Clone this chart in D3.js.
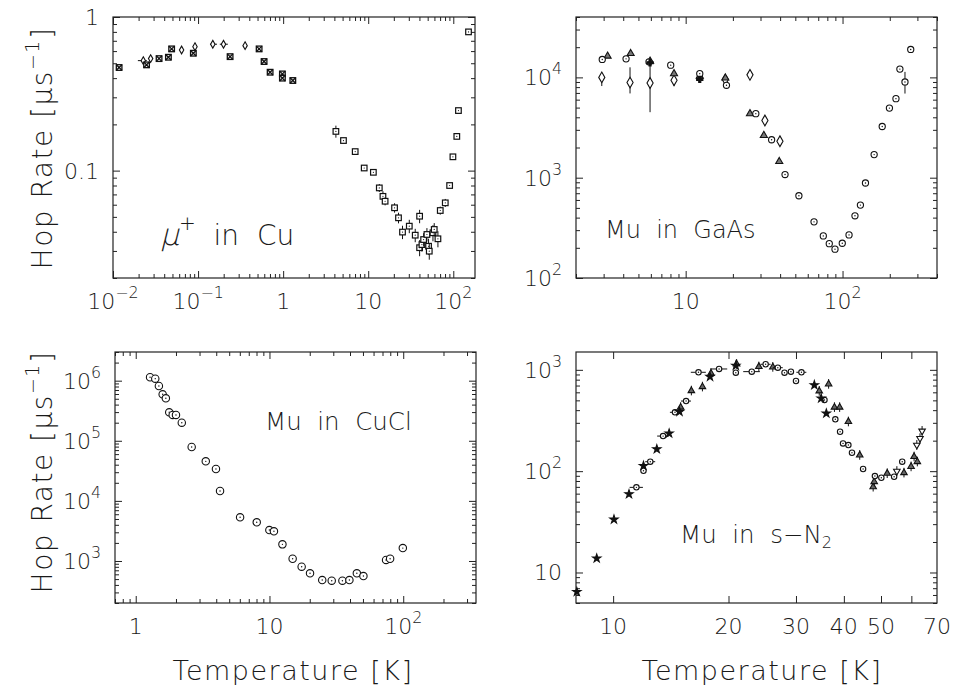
<!DOCTYPE html>
<html>
<head>
<meta charset="utf-8">
<script src="https://cdn.jsdelivr.net/npm/d3@7"></script>
<style>
body { margin: 0; background: #fff; }
text { font-family: "DejaVu Sans", "Liberation Sans", sans-serif; font-weight: 200; fill: #1a1a1a; }
</style>
</head>
<body>
<div id="chart"></div>
<script>
// ---- mu+ in Cu ----
var cuT_x = [0.0118, 0.0248, 0.0348, 0.0448, 0.0489, 0.088, 0.238, 0.522, 0.597, 0.703, 0.98, 0.98, 1.30];
var cuR_x = [0.469, 0.488, 0.536, 0.547, 0.62, 0.581, 0.552, 0.62, 0.513, 0.437, 0.426, 0.40, 0.386];
var cuT_d = [0.0227, 0.0277, 0.064, 0.092, 0.149, 0.199, 0.357];
var cuR_d = [0.52, 0.536, 0.61, 0.641, 0.665, 0.665, 0.651];
var cuTlo_d = [0.0196, null, null, null, 0.138, 0.180, null];
var cuThi_d = [0.0250, null, null, null, 0.167, 0.224, null];
var cuT_s = [4.17, 5.12, 7.03, 8.97, 11.5, 13.5, 14.9, 15.8, 20.4, 22.7, 25.3, 30.4, 35.7, 40.2, 40.2, 42.8, 44.8, 49, 51.2, 52.2, 57.7, 59.7, 66, 70.3, 80.5, 90.6, 99, 110, 115, 151];
var cuR_s = [0.18, 0.157, 0.133, 0.104, 0.0975, 0.0772, 0.068, 0.0632, 0.0573, 0.0493, 0.0398, 0.0435, 0.038, 0.0505, 0.0315, 0.033, 0.0356, 0.0384, 0.0322, 0.0299, 0.0394, 0.0414, 0.036, 0.055, 0.0617, 0.08, 0.123, 0.167, 0.246, 0.80];
var cuErr_s = [0.09, 0.04, 0.04, 0.04, 0.04, 0.06, 0.08, 0.06, 0.07, 0.08, 0.1, 0.1, 0.1, 0.1, 0.12, 0.1, 0.1, 0.1, 0.12, 0.12, 0.12, 0.1, 0.12, 0.06, 0.06, 0.04, 0.04, 0.04, 0.04, 0.04];

// ---- Mu in GaAs ----
var gaT_c = [2.94, 4.17, 5.84, 8.03, 12.3, 18.2, 28.0, 35.3, 43, 52.7, 65.8, 75.4, 82.3, 89.5, 99.6, 110, 120, 130, 140, 159, 179, 199, 219, 232, 250, 272];
var gaR_c = [15100, 15300, 14300, 13250, 10900, 8340, 4350, 2390, 1075, 661, 363, 263, 220, 194, 222, 269, 417, 533, 885, 1700, 3240, 4940, 6140, 12100, 9010, 19000];
var gaRlo_c = [null, null, null, null, null, null, null, null, null, null, null, null, null, null, null, null, null, null, null, null, null, null, null, null, 6900, null];
var gaRhi_c = [null, null, null, null, null, null, null, null, null, null, null, null, null, null, null, null, null, null, null, null, null, null, null, null, 11350, null];
var gaT_d = [2.92, 4.42, 5.93, 8.43, 17.9, 25.7, 32.0, 39.9];
var gaR_d = [10000, 8880, 8800, 9350, 9500, 10600, 3720, 2310];
var gaRlo_d = [8200, 6920, 4500, 8200, null, null, null, null];
var gaRhi_d = [10900, 12600, 15000, 10300, null, null, null, null];
var gaT_t = [3.18, 4.46, 5.93, 8.43, 12.3, 17.9, 25.7, 31.5, 39.5];
var gaR_t = [16300, 17300, 14500, 10900, 10300, 9860, 4350, 2640, 1450];
var gaT_p = [5.93, 12.3];
var gaR_p = [14000, 9570];

// ---- Mu in CuCl ----
var cuclT = [1.28, 1.40, 1.49, 1.59, 1.68, 1.78, 1.89, 2.0, 2.21, 2.62, 3.34, 3.98, 4.27, 6.03, 8.03, 9.98, 10.8, 12.5, 14.9, 17.4, 20.1, 24.8, 29.2, 35.1, 39.6, 45, 50.4, 74.4, 79.8, 99.3];
var cuclR = [1.14e6, 1.08e6, 8.15e5, 5.93e5, 5.09e5, 2.98e5, 2.69e5, 2.69e5, 2.0e5, 7.88e4, 4.55e4, 3.39e4, 1.46e4, 5330, 4400, 3270, 3120, 1890, 1090, 803, 624, 482, 470, 470, 482, 624, 562, 1040, 1090, 1640];

// ---- Mu in s-N2 ----
var n2T_s = [8.04, 9.06, 10.05, 11.0, 12.0, 13.0, 14.0, 14.9, 17.9, 20.9, 33.5, 34.9, 36.0];
var n2R_s = [6.45, 13.8, 33.4, 59.4, 113, 165, 236, 386, 855, 1100, 708, 524, 372];
var n2T_c = [11.5, 12.0, 12.5, 13.5, 14.5, 15.5, 16.7, 18.9, 20.9, 23.0, 25.0, 26.9, 28.0, 29.1, 30.0, 31.0, 35.6, 38.0, 39.1, 39.8, 41.1, 42.0, 44.9, 48.2, 50.1, 54.1, 56.8];
var n2R_c = [69.2, 101, 124, 222, 381, 492, 946, 1020, 937, 960, 1135, 1050, 937, 960, 776, 946, 504, 325, 245, 188, 181, 152, 105, 89.5, 86.1, 88.1, 124];
var n2Terr_c = [0.04, 0, 0.03, 0.035, 0.03, 0.03, 0.045, 0.05, 0, 0.05, 0.03, 0.03, 0, 0, 0, 0.03, 0, 0, 0, 0, 0, 0, 0, 0, 0, 0, 0];
var n2T_t = [15.0, 16.0, 17.1, 18.0, 21.0, 24.0, 26.1, 34.5, 36.5, 37.8, 39.0, 41.1, 44.0, 47.7, 48.0, 51.9, 57.4, 59.9, 61.0, 62.2];
var n2R_t = [427, 622, 681, 925, 1140, 1075, 1065, 618, 724, 427, 427, 308, 144, 70, 78.7, 95.1, 96.4, 111, 139, 124];
var n2T_v = [55.0, 62.0, 63.2, 64.0];
var n2R_v = [100, 181, 211, 249];

var W = 955, H = 689;
var svg = d3.select("#chart").append("svg")
	.attr("width", W)
	.attr("height", H)
	.style("background", "#fff");

function supText(g, x, y, base, sup, anchor, size) {
	var t = g.append("text")
		.attr("x", x)
		.attr("y", y)
		.attr("text-anchor", anchor)
		.style("font-size", size + "px");
	t.append("tspan").text(base);
	if (sup) {
		t.append("tspan").attr("dy", -size * 0.5).style("font-size", (size * 0.72) + "px").text(sup);
	}
	return t;
}

function isMajor(v) {
	var l = Math.log10(v);
	return Math.abs(l - Math.round(l)) < 1e-6;
}

function drawPanel(p) {
	var x = d3.scaleLog().domain(p.xDomain).range([p.left, p.right]);
	var y = d3.scaleLog().domain(p.yDomain).range([p.bottom, p.top]);
	var g = svg.append("g");

	var xt = p.xTicks || x.ticks();
	var yt = y.ticks();
	var xm = p.xMajor || isMajor;
	var xMaj = xt.filter(xm), xMin = xt.filter(function(v) { return !xm(v); });
	var yMaj = yt.filter(isMajor), yMin = yt.filter(function(v) { return !isMajor(v); });

	function ax(fn, scale, vals, len, tr) {
		g.append("g")
			.attr("transform", tr)
			.call(fn(scale).tickValues(vals).tickSize(-len).tickFormat(""))
			.call(function(s) { s.select(".domain").remove(); s.selectAll("line").attr("stroke", "#222"); });
	}
	ax(d3.axisBottom, x, xMaj, 7, "translate(0," + p.bottom + ")");
	ax(d3.axisBottom, x, xMin, 4, "translate(0," + p.bottom + ")");
	ax(d3.axisTop, x, xMaj, 7, "translate(0," + p.top + ")");
	ax(d3.axisTop, x, xMin, 4, "translate(0," + p.top + ")");
	ax(d3.axisLeft, y, yMaj, 7, "translate(" + p.left + ",0)");
	ax(d3.axisLeft, y, yMin, 4, "translate(" + p.left + ",0)");
	ax(d3.axisRight, y, yMaj, 7, "translate(" + p.right + ",0)");
	ax(d3.axisRight, y, yMin, 4, "translate(" + p.right + ",0)");

	g.append("rect")
		.attr("x", p.left).attr("y", p.top)
		.attr("width", p.right - p.left).attr("height", p.bottom - p.top)
		.attr("fill", "none").attr("stroke", "#222").attr("stroke-width", 1.2);

	p.xLabels.forEach(function(l) {
		supText(g, x(l[0]), p.bottom + 31, l[1], l[2], "middle", 22);
	});
	p.yLabels.forEach(function(l) {
		supText(g, p.left - 14, y(l[0]) + 8, l[1], l[2], "end", 22);
	});

	return {g: g, x: x, y: y};
}

function marker(g, shape, cx, cy, s, fill) {
	var st = "#111";
	if (shape == "circle") {
		g.append("circle").attr("cx", cx).attr("cy", cy).attr("r", s).attr("fill", "#fff").attr("stroke", st).attr("stroke-width", 1.1);
		g.append("circle").attr("cx", cx).attr("cy", cy).attr("r", 0.7).attr("fill", st);
	} else if (shape == "xsquare") {
		g.append("rect").attr("x", cx - s).attr("y", cy - s).attr("width", 2 * s).attr("height", 2 * s).attr("fill", "#fff").attr("stroke", st).attr("stroke-width", 1.3);
		g.append("path").attr("d", "M" + (cx - s) + "," + (cy - s) + "L" + (cx + s) + "," + (cy + s) + "M" + (cx + s) + "," + (cy - s) + "L" + (cx - s) + "," + (cy + s)).attr("stroke", st).attr("stroke-width", 1.3);
	} else if (shape == "square") {
		g.append("rect").attr("x", cx - s).attr("y", cy - s).attr("width", 2 * s).attr("height", 2 * s).attr("fill", "#fff").attr("stroke", st).attr("stroke-width", 1.2);
	} else {
		var type = {diamond: d3.symbolDiamond, triangle: d3.symbolTriangle, star: d3.symbolStar, cross: d3.symbolCross, wye: d3.symbolTriangle}[shape];
		g.append("path")
			.attr("d", d3.symbol().type(type).size(s * s * 3.2)())
			.attr("transform", "translate(" + cx + "," + cy + ")" + (shape == "wye" ? " rotate(180)" : ""))
			.attr("fill", fill || "#fff").attr("stroke", st).attr("stroke-width", 1.1);
	}
}

function errV(g, P, t, lo, hi) {
	g.append("line").attr("x1", P.x(t)).attr("x2", P.x(t)).attr("y1", P.y(lo)).attr("y2", P.y(hi)).attr("stroke", "#111").attr("stroke-width", 1);
}
function errH(g, P, r, lo, hi) {
	g.append("line").attr("x1", P.x(lo)).attr("x2", P.x(hi)).attr("y1", P.y(r)).attr("y2", P.y(r)).attr("stroke", "#111").attr("stroke-width", 1);
}

// ---------- panel 1: mu+ in Cu ----------
var P1 = drawPanel({
	left: 113, right: 475, top: 17, bottom: 278,
	xDomain: [0.01, 180], yDomain: [0.02, 1],
	xLabels: [[0.01, "10", "\u22122"], [0.1, "10", "\u22121"], [1, "1"], [10, "10"], [100, "10", "2"]],
	yLabels: [[1, "1"], [0.1, "0.1"]]
});
var m1 = P1.g.append("g");
cuT_s.forEach(function(t, i) {
	var r = cuR_s[i], e = cuErr_s[i];
	errV(m1, P1, t, r * (1 - e), r * (1 + e));
	marker(m1, "square", P1.x(t), P1.y(r), 2.8);
	m1.append("circle").attr("cx", P1.x(t)).attr("cy", P1.y(r)).attr("r", 0.6).attr("fill", "#111");
});
cuT_d.forEach(function(t, i) {
	if (cuTlo_d[i]) errH(m1, P1, cuR_d[i], cuTlo_d[i], cuThi_d[i]);
	marker(m1, "diamond", P1.x(t), P1.y(cuR_d[i]), 2.3);
});
cuT_x.forEach(function(t, i) {
	marker(m1, "xsquare", P1.x(t), P1.y(cuR_x[i]), 2.8);
});
// slanted thin mu, then "+ in Cu"
P1.g.append("text").attr("transform", "translate(160,245) skewX(-14)").style("font-size", "30px").text("\u03bc");
P1.g.append("text").attr("x", 179).attr("y", 245).style("font-size", "28px").attr("xml:space", "preserve")
	.call(function(t) {
		t.append("tspan").attr("dy", -15).style("font-size", "20px").text("+");
		t.append("tspan").attr("dy", 15).text("  in  Cu");
	});

// ---------- panel 2: Mu in GaAs ----------
var P2 = drawPanel({
	left: 576, right: 937, top: 17, bottom: 278,
	xDomain: [2, 400], yDomain: [100, 40000],
	xLabels: [[10, "10"], [100, "10", "2"]],
	yLabels: [[10000, "10", "4"], [1000, "10", "3"], [100, "10", "2"]]
});
var m2 = P2.g.append("g");
gaT_d.forEach(function(t, i) {
	if (gaRlo_d[i]) errV(m2, P2, t, gaRlo_d[i], gaRhi_d[i]);
	marker(m2, "diamond", P2.x(t), P2.y(gaR_d[i]), 3.2);
});
gaT_t.forEach(function(t, i) {
	marker(m2, "triangle", P2.x(t), P2.y(gaR_t[i]), 2.6, "#777");
});
gaT_c.forEach(function(t, i) {
	if (gaRlo_c[i]) errV(m2, P2, t, gaRlo_c[i], gaRhi_c[i]);
	marker(m2, "circle", P2.x(t), P2.y(gaR_c[i]), 3.1);
});
gaT_p.forEach(function(t, i) {
	marker(m2, "cross", P2.x(t), P2.y(gaR_p[i]), 2.6, "#111");
});
P2.g.append("text").attr("x", 605).attr("y", 238).style("font-size", "24px").attr("xml:space", "preserve").text("Mu  in  GaAs");

// ---------- panel 3: Mu in CuCl ----------
var P3 = drawPanel({
	left: 115, right: 476, top: 352, bottom: 603,
	xDomain: [0.7, 350], yDomain: [200, 3e6],
	xLabels: [[1, "1"], [10, "10"], [100, "10", "2"]],
	yLabels: [[1e6, "10", "6"], [1e5, "10", "5"], [1e4, "10", "4"], [1e3, "10", "3"]]
});
var m3 = P3.g.append("g");
cuclT.forEach(function(t, i) {
	marker(m3, "circle", P3.x(t), P3.y(cuclR[i]), 3.7);
});
P3.g.append("text").attr("x", 265).attr("y", 430).style("font-size", "24.5px").attr("xml:space", "preserve").text("Mu  in  CuCl");

// ---------- panel 4: Mu in s-N2 ----------
var P4 = drawPanel({
	left: 576, right: 937, top: 352, bottom: 603,
	xDomain: [8, 70], yDomain: [5, 1500],
	xTicks: [10, 20, 30, 40, 50, 60],
	xMajor: function() { return true; },
	xLabels: [[10, "10"], [20, "20"], [30, "30"], [40, "40"], [50, "50"], [70, "70"]],
	yLabels: [[1000, "10", "3"], [100, "10", "2"], [10, "10"]]
});
var m4 = P4.g.append("g");
n2T_t.forEach(function(t, i) {
	var r = n2R_t[i];
	errV(m4, P4, t, r * 0.9, r * 1.12);
	marker(m4, "triangle", P4.x(t), P4.y(r), 2.4, "#666");
});
n2T_v.forEach(function(t, i) {
	var r = n2R_v[i];
	errV(m4, P4, t, r * 0.9, r * 1.12);
	marker(m4, "wye", P4.x(t), P4.y(r), 2.4);
});
n2T_c.forEach(function(t, i) {
	var e = n2Terr_c[i];
	if (e) errH(m4, P4, n2R_c[i], t * (1 - e), t * (1 + e));
	marker(m4, "circle", P4.x(t), P4.y(n2R_c[i]), 2.7);
});
n2T_s.forEach(function(t, i) {
	marker(m4, "star", P4.x(t), P4.y(n2R_s[i]), 2.6, "#111");
});
P4.g.append("text").attr("x", 680).attr("y", 543).style("font-size", "24.5px").attr("xml:space", "preserve")
	.call(function(t) {
		t.append("tspan").text("Mu  in  s\u2212N");
		t.append("tspan").attr("dy", 5).style("font-size", "16px").text("2");
	});

// ---------- axis titles ----------
function hopLabel(cy) {
	var t = svg.append("text")
		.attr("transform", "translate(52," + cy + ") rotate(-90)")
		.attr("text-anchor", "middle")
		.style("font-size", "28px")
		.style("letter-spacing", "1.5px")
		.attr("xml:space", "preserve");
	t.append("tspan").text("Hop Rate [");
	t.append("tspan").text("\u03bcs");
	t.append("tspan").attr("dy", -13).style("font-size", "19px").text("\u22121");
	t.append("tspan").attr("dy", 13).text("]");
}
hopLabel(148);
hopLabel(472);

[293, 762].forEach(function(cx) {
	svg.append("text")
		.attr("x", cx).attr("y", 680)
		.attr("text-anchor", "middle")
		.style("font-size", "27px")
		.style("letter-spacing", "1.5px")
		.text("Temperature [K]");
});
</script>
</body>
</html>
